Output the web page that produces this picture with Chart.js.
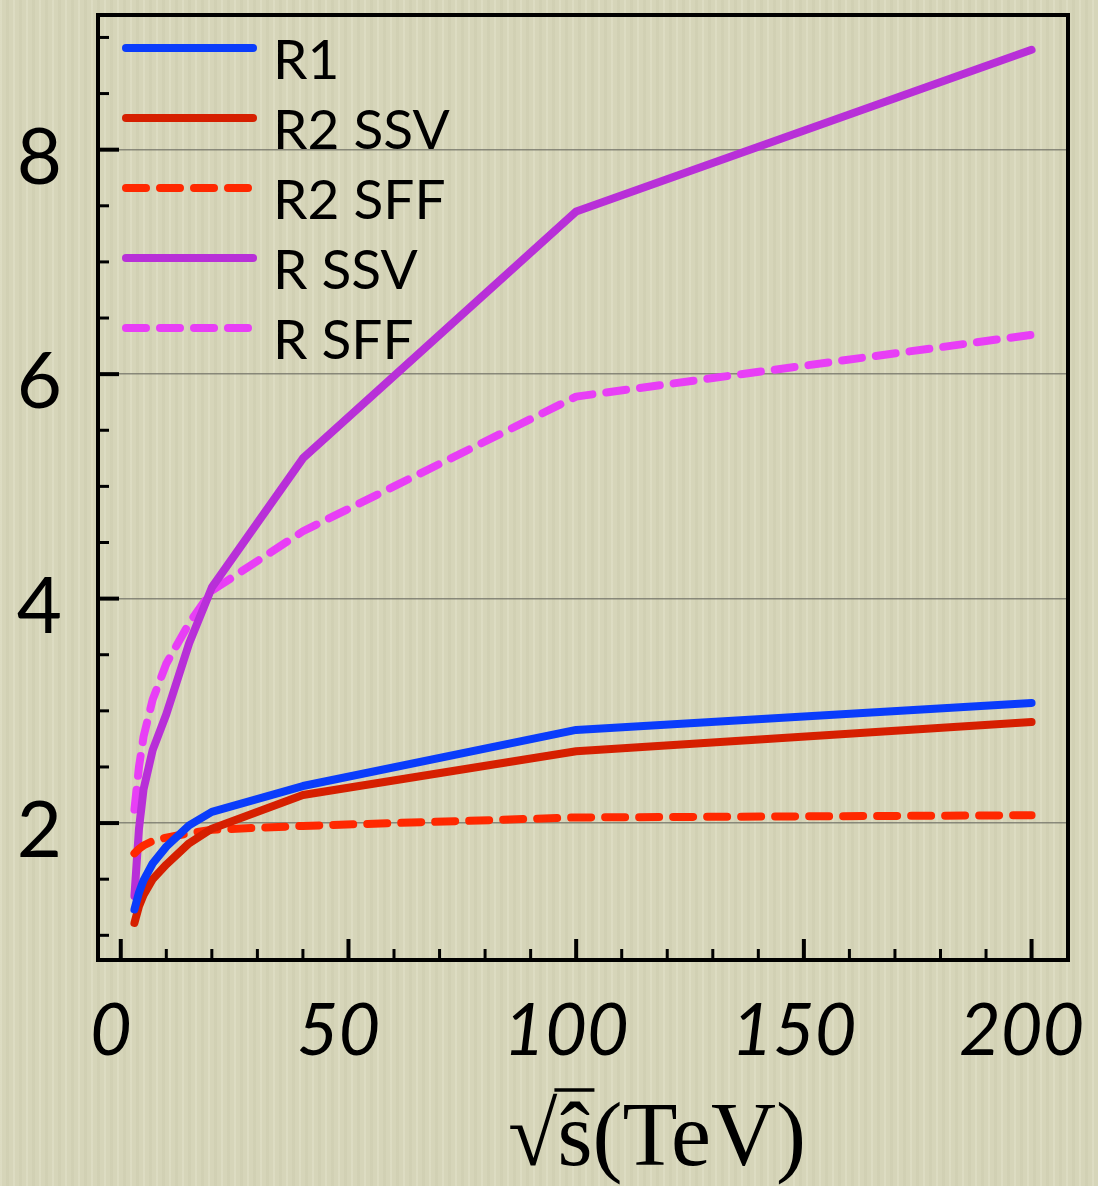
<!DOCTYPE html>
<html>
<head>
<meta charset="utf-8">
<script src="https://cdn.jsdelivr.net/npm/chart.js@4/dist/chart.umd.min.js"></script>
<style>
  html, body { margin: 0; padding: 0; }
  body {
    width: 1098px; height: 1186px; overflow: hidden;
    background-color: #d6d5b9;
    background-image:
      repeating-linear-gradient(90deg, rgba(255,255,240,0.16) 0px, rgba(255,255,240,0.16) 2px, rgba(0,0,0,0) 2px, rgba(0,0,0,0) 6px, rgba(120,120,80,0.05) 6px, rgba(120,120,80,0.05) 9px, rgba(0,0,0,0) 9px, rgba(0,0,0,0) 13px);
  }
  #wrap { position: relative; width: 1098px; height: 1186px; }
  canvas { display: block; }
</style>
</head>
<body>
<div id="wrap"><canvas id="c" width="1098" height="1186"></canvas></div>
<script>
// ---- data ----
const energies = [3, 4, 5, 7, 10, 15, 20, 40, 100, 200];          // sqrt(s-hat) in TeV
const seriesR1    = [1.23, 1.38, 1.49, 1.64, 1.79, 1.98, 2.10, 2.33, 2.83, 3.07];
const seriesR2SSV = [1.11, 1.26, 1.36, 1.50, 1.63, 1.82, 1.95, 2.25, 2.64, 2.90];
const seriesR2SFF = [1.73, 1.77, 1.80, 1.84, 1.87, 1.91, 1.94, 1.975, 2.05, 2.07];
const seriesRSSV  = [1.35, 1.95, 2.30, 2.65, 2.97, 3.60, 4.10, 5.25, 7.45, 8.89];
const seriesRSFF  = [2.12, 2.50, 2.77, 3.10, 3.42, 3.78, 4.07, 4.60, 5.80, 6.35];
const seriesNames = ["R1", "R2 SSV", "R2 SFF", "R SSV", "R SFF"];
const xTickValues = [0, 50, 100, 150, 200];
const yTickValues = [2, 4, 6, 8];
const xMinorStep = 10;
const yMinorStep = 0.5;
const xTitle = "\u221A\u015D(TeV)";

function pts(ys) { return energies.map((x, i) => ({ x: x, y: ys[i] })); }

const DASH = [20, 14];
const datasets = [
  { label: seriesNames[0], data: pts(seriesR1),    borderColor: "#0a3cfb", dash: [] },
  { label: seriesNames[1], data: pts(seriesR2SSV), borderColor: "#d61f00", dash: [] },
  { label: seriesNames[2], data: pts(seriesR2SFF), borderColor: "#ff2800", dash: DASH },
  { label: seriesNames[3], data: pts(seriesRSSV),  borderColor: "#b82fd8", dash: [] },
  { label: seriesNames[4], data: pts(seriesRSFF),  borderColor: "#e83ef6", dash: DASH }
].map(d => ({
  label: d.label, data: d.data, borderColor: d.borderColor, backgroundColor: d.borderColor,
  borderDash: d.dash, borderWidth: 8, borderCapStyle: "round", borderJoinStyle: "round",
  pointRadius: 0, pointHoverRadius: 0, tension: 0, fill: false
}));

function zeroPad(s) { s.paddingTop = 0; s.paddingBottom = 0; s.paddingLeft = 0; s.paddingRight = 0; }

const decor = {
  id: "decor",
  afterDatasetsDraw(chart) {
    const ctx = chart.ctx;
    ctx.save();
    const lx0 = 126, lx1 = 253, ly0 = 48, dy = 70;
    chart.data.datasets.forEach((ds, i) => {
      const y = ly0 + i * dy;
      ctx.beginPath();
      ctx.strokeStyle = ds.borderColor;
      ctx.lineWidth = 8;
      ctx.lineCap = "round";
      ctx.setLineDash(ds.borderDash || []);
      ctx.moveTo(lx0, y); ctx.lineTo(lx1, y);
      ctx.stroke();
      ctx.setLineDash([]);
      ctx.fillStyle = "#000";
      ctx.font = "55px Lato";
      ctx.textBaseline = "alphabetic";
      ctx.textAlign = "left";
      ctx.fillText(ds.label, 273, y + 31);
    });
    ctx.restore();
  },
  afterDraw(chart) {
    const ctx = chart.ctx, a = chart.chartArea;
    const xs = chart.scales.x, ys = chart.scales.y;
    ctx.save();
    ctx.strokeStyle = "#000";
    ctx.lineCap = "butt";
    for (let v = 1.0; v <= ys.max + 1e-9; v += yMinorStep) {
      const p = ys.getPixelForValue(v);
      const major = yTickValues.some(t => Math.abs(t - v) < 1e-6);
      ctx.beginPath();
      ctx.lineWidth = major ? 4 : 3;
      ctx.moveTo(a.left, p); ctx.lineTo(a.left + (major ? 21 : 11), p);
      ctx.stroke();
    }
    for (let v = 0; v <= xs.max + 1e-9; v += xMinorStep) {
      const p = xs.getPixelForValue(v);
      const major = xTickValues.some(t => Math.abs(t - v) < 1e-6);
      ctx.beginPath();
      ctx.lineWidth = major ? 4 : 3;
      ctx.moveTo(p, a.bottom); ctx.lineTo(p, a.bottom - (major ? 21 : 11));
      ctx.stroke();
    }
    ctx.lineWidth = 4;
    ctx.strokeRect(a.left, a.top, a.right - a.left, a.bottom - a.top);
    // x axis title
    ctx.fillStyle = "#000";
    ctx.font = "90px 'Liberation Serif'";
    ctx.textAlign = "left";
    ctx.textBaseline = "alphabetic";
    const tw = ctx.measureText(xTitle).width;
    const tx = 657 - tw / 2, ty = 1165;
    ctx.fillText(xTitle, tx, ty);
    const wRad = ctx.measureText("\u221A").width;
    const wS = ctx.measureText("\u015D").width;
    ctx.lineWidth = 3.5;
    ctx.beginPath();
    ctx.moveTo(tx + wRad - 3, ty - 75);
    ctx.lineTo(tx + wRad + wS + 2, ty - 75);
    ctx.stroke();
    ctx.restore();
  }
};

new Chart(document.getElementById("c"), {
  type: "line",
  data: { datasets: datasets },
  options: {
    responsive: false,
    animation: false,
    events: [],
    layout: { padding: { top: 15, right: 30, left: 0, bottom: 0 } },
    plugins: { legend: { display: false }, tooltip: { enabled: false }, title: { display: false } },
    scales: {
      x: {
        type: "linear", min: -5, max: 208,
        afterFit(s) { s.height = 1186 - 15 - 945; zeroPad(s); },
        afterBuildTicks(s) { s.ticks = xTickValues.map(v => ({ value: v })); },
        grid: { display: false, drawTicks: false },
        border: { display: false },
        ticks: {
          font: { family: "Lato", size: 72, style: "italic" },
          color: "#000", padding: 29, labelOffset: -10, maxRotation: 0, autoSkip: false
        }
      },
      y: {
        type: "linear", min: 0.78, max: 9.2,
        afterFit(s) { s.width = 98; zeroPad(s); },
        afterBuildTicks(s) { s.ticks = yTickValues.map(v => ({ value: v })); },
        grid: { display: true, drawTicks: false, color: "rgba(110,110,100,0.75)", lineWidth: 1.5 },
        border: { display: false },
        ticks: {
          font: { family: "Lato", size: 78 },
          color: "#000", padding: 36, labelOffset: 9
        }
      }
    }
  },
  plugins: [decor]
});
</script>
</body>
</html>
